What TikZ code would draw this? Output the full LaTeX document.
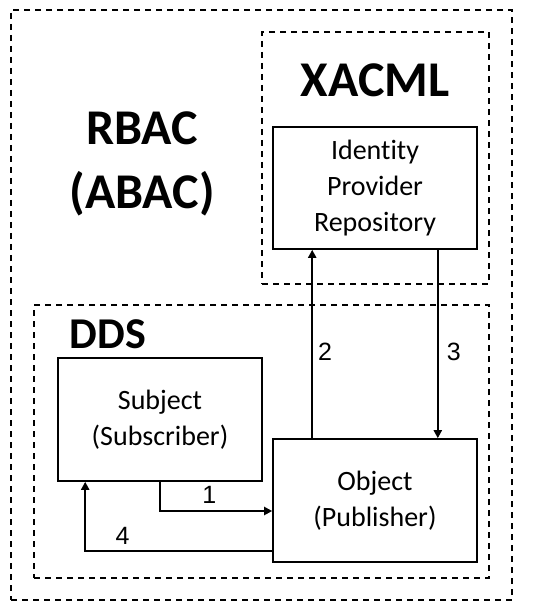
\documentclass[tikz,border=0pt]{standalone}
\usepackage{fontspec}
\setmainfont[Ligatures={NoCommon}]{Carlito}
\newfontfamily\numfont{Liberation Sans}
\usetikzlibrary{arrows.meta,positioning,calc}

\begin{document}
\begin{tikzpicture}[x=1pt, y=-1pt,
  frame/.style={draw, line width=1.6pt, dash pattern=on 6pt off 5pt, inner sep=0pt},
  box/.style={draw, line width=1.6pt, minimum width=204pt, minimum height=123pt, align=center, font=\fontsize{28}{36}\selectfont},
  title/.style={font=\fontsize{50}{64}\selectfont\bfseries, align=center, inner sep=0pt},
  lbl/.style={font=\numfont\fontsize{25}{28}\selectfont, inner sep=0pt},
  arr/.style={-{Triangle[length=8pt, width=8pt]}, line width=2pt},
]
\useasboundingbox (0,0) rectangle (550,612);

% Frames
\node[frame, minimum width=501pt, minimum height=590pt] (rbac) at (261.5,305) {};
\node[frame, minimum width=227pt, minimum height=252pt] (xacml) at (375.5,158) {};
\node[frame, minimum width=455pt, minimum height=273pt] (dds) at (261.5,441.5) {};

% Titles
\node[title] (rbactxt) at (142,164) {RBAC\\(ABAC)};
\node[title, anchor=base] (xacmltxt) at (375,97) {XACML};
\node[title, font=\fontsize{44}{52}\selectfont\bfseries, anchor=base] (ddstxt) at (108,348) {DDS};

% Boxes
\node[box, minimum height=122pt] (idp) at (375,188) {Identity\\Provider\\Repository};
\node[box] (subj) at (160,419.5) {Subject\\(Subscriber)};
\node[box] (obj) at (375,500.5) {Object\\(Publisher)};

% Arrows
\draw[arr] (subj.south) |- ([yshift=-10.5pt]obj.west)
  node[lbl, pos=0.72, above=7pt] {1};
\draw[arr] ([xshift=40pt]obj.north west) -- ([xshift=40pt]idp.south west)
  node[lbl, pos=0.46, right=5pt] {2};
\draw[arr] ([xshift=-40pt]idp.south east) -- ([xshift=-40pt]obj.north east)
  node[lbl, pos=0.54, right=8pt] {3};
\draw[arr] ([yshift=-50.5pt]obj.west) -| ([xshift=28pt]subj.south west)
  node[lbl, pos=0.4, above=6pt] {4};
\end{tikzpicture}
\end{document}
